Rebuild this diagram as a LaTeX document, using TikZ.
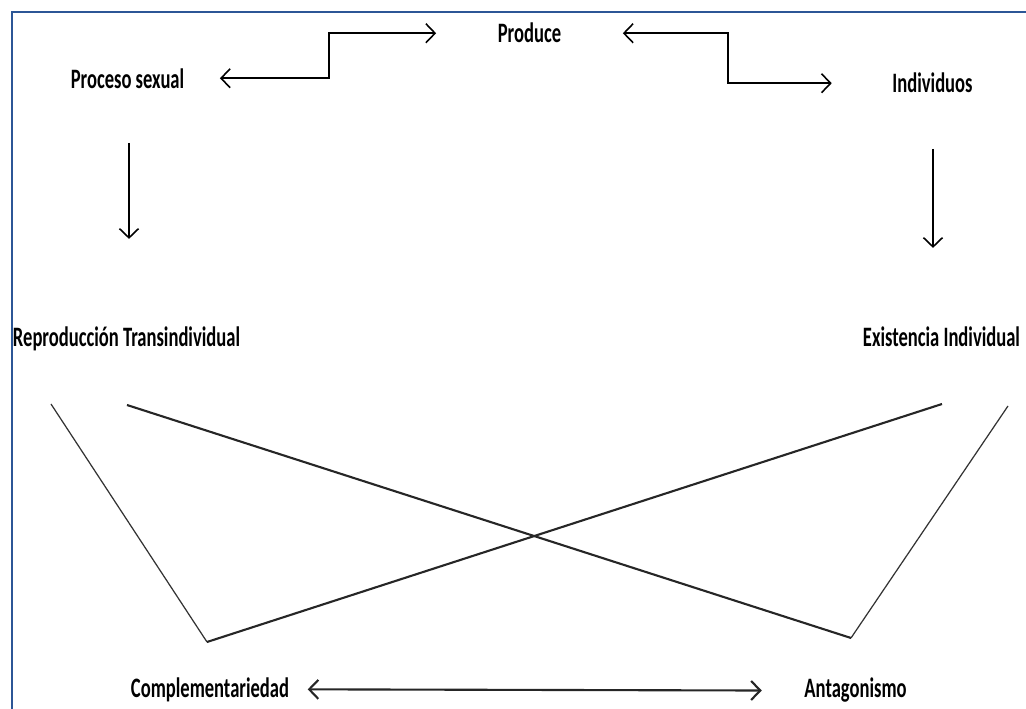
\documentclass[tikz,border=0pt]{standalone}
\usepackage{fontspec}
\setmainfont{Carlito}[FakeStretch=0.66]
\usetikzlibrary{arrows.meta,calc}

\begin{document}
\begin{tikzpicture}[x=0.01cm,y=-0.01cm,
  >={Straight Barb[length=2.6pt,width=5.4pt]},
  word/.style={font=\bfseries\fontsize{8}{9}\selectfont,inner sep=0pt,anchor=base},
  link/.style={line width=0.45pt},
  cross/.style={line width=0.6pt,black!85},
  side/.style={line width=0.35pt,black!80},
  frame/.style={line width=0.8pt,color={rgb,255:red,44;green,86;blue,150}}]
\useasboundingbox (0,0) rectangle (1026,709);
\coordinate (rl) at (51,404);
\coordinate (rr) at (127,405);
\coordinate (el) at (942,404);
\coordinate (er) at (1008,406);
\coordinate (vl) at (207,642);
\coordinate (vr) at (851,638);
\draw[frame] (12,709)--(12,12)--(1026,12);
\node (produce) at (529.5,43) [word]{Produce};
\node (sexual) at (127.5,88) [word]{Proceso sexual};
\node (indiv) at (932.5,93) [word]{Individuos};
\node (repro) at (126.5,347) [word]{Reproducción Transindividual};
\node (exist) at (941.5,347) [word]{Existencia Individual};
\node (compl) at (210,697) [word]{Complementariedad};
\node (antag) at (855.5,698) [word]{Antagonismo};
\draw[link,<->] ($(sexual.east)+(35,0)$) -| (329,56) |- ($(produce.west)+(-61,0)$);
\draw[link,<->] ($(produce.east)+(61,0)$) -| (728,58) |- ($(indiv.west)+(-60,0)$);
\draw[link,->] ($(sexual.south)+(1.5,54)$)--($(sexual.south)+(1.5,150)$);
\draw[link,->] ($(indiv.south)+(0.5,55)$)--($(indiv.south)+(0.5,154)$);
%\draw (rl)--(er);
\draw[side] (rl)--(vl);
\draw[cross] (rr)--(vr);
\draw[cross] (el)--(vl);
\draw[side] (er)--(vr);
\draw[cross,<->] ($(compl.east)+(18,0)$)--($(antag.west)+(-42,0)$);
\end{tikzpicture}
\end{document}
